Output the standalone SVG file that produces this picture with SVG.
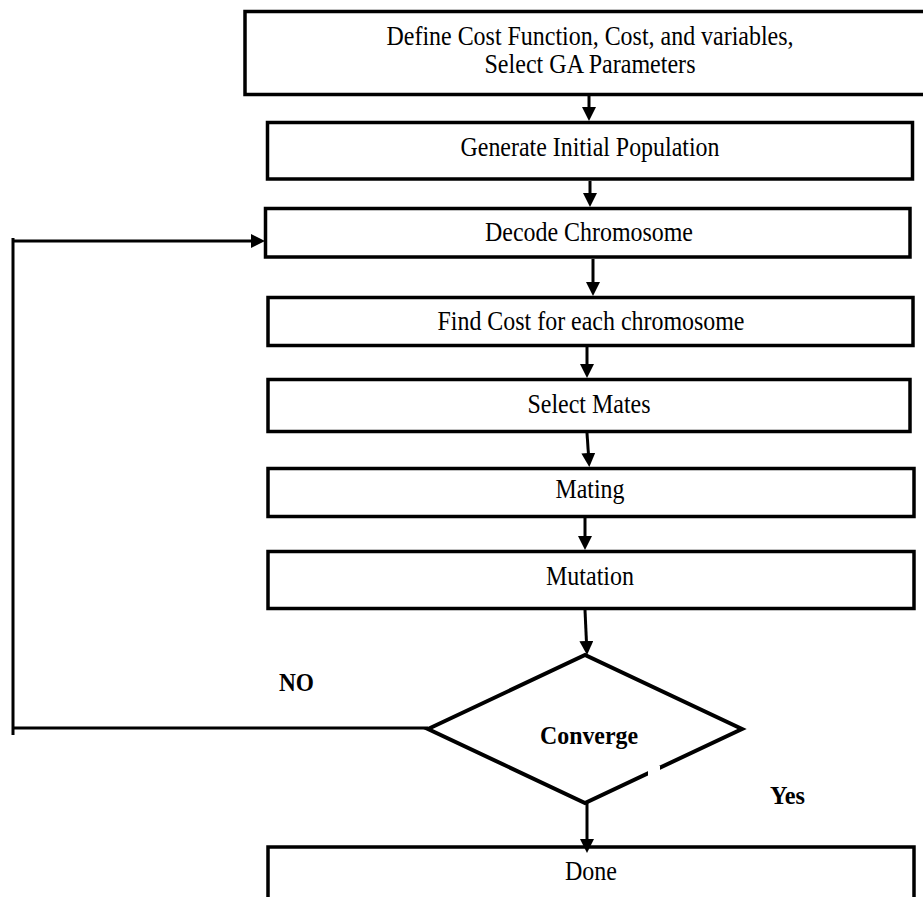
<svg xmlns="http://www.w3.org/2000/svg" width="923" height="897" viewBox="0 0 923 897">
<style>
.box{fill:#fff;stroke:#000;stroke-width:3.5}
.t{font-family:"Liberation Serif","Times New Roman",serif;font-size:26.5px;fill:#000;text-anchor:middle}
.b{font-family:"Liberation Serif","Times New Roman",serif;font-size:25px;font-weight:bold;fill:#000}
.c{fill:none;stroke:#000;stroke-width:3}
</style>
<defs>
<marker id="ah" markerUnits="userSpaceOnUse" markerWidth="15" markerHeight="15" refX="2" refY="7" orient="auto">
<path d="M0,0 L14,7 L0,14 z" fill="#000"/>
</marker>
</defs>
<g id="n-define"><rect class="box" x="245" y="11.5" width="700" height="83"/>
<text class="t" x="590" y="45" textLength="407" lengthAdjust="spacingAndGlyphs">Define Cost Function, Cost, and variables,</text>
<text class="t" x="590" y="73" textLength="211" lengthAdjust="spacingAndGlyphs">Select GA Parameters</text></g>
<g id="n-generate"><rect class="box" x="267.5" y="122.5" width="645" height="56.5"/>
<text class="t" x="590" y="156" textLength="259" lengthAdjust="spacingAndGlyphs">Generate Initial Population</text></g>
<g id="n-decode"><rect class="box" x="265.5" y="208.5" width="644.5" height="48.5"/>
<text class="t" x="589" y="241" textLength="208" lengthAdjust="spacingAndGlyphs">Decode Chromosome</text></g>
<g id="n-find"><rect class="box" x="268" y="297.5" width="645" height="48"/>
<text class="t" x="591" y="330" textLength="307" lengthAdjust="spacingAndGlyphs">Find Cost for each chromosome</text></g>
<g id="n-select"><rect class="box" x="268" y="379.5" width="642" height="52"/>
<text class="t" x="589" y="413" textLength="123" lengthAdjust="spacingAndGlyphs">Select Mates</text></g>
<g id="n-mating"><rect class="box" x="268" y="468.5" width="646" height="48"/>
<text class="t" x="590" y="498" textLength="69" lengthAdjust="spacingAndGlyphs">Mating</text></g>
<g id="n-mutation"><rect class="box" x="268" y="551.5" width="646" height="57"/>
<text class="t" x="590" y="585" textLength="88" lengthAdjust="spacingAndGlyphs">Mutation</text></g>
<g id="n-converge"><polygon points="428,729 585,655 742,729 585,803" fill="#fff" stroke="#000" stroke-width="4" stroke-linejoin="miter"/>
<rect x="648" y="766" width="12" height="10" fill="#fff"/>
<text class="b" x="589" y="744" text-anchor="middle" textLength="98" lengthAdjust="spacingAndGlyphs">Converge</text></g>
<g id="n-done"><rect class="box" x="268" y="847" width="646" height="70"/>
<text class="t" x="591" y="880" textLength="52" lengthAdjust="spacingAndGlyphs">Done</text></g>
<g id="connectors">
<line class="c" x1="589" y1="95" x2="589" y2="109" marker-end="url(#ah)"/>
<line class="c" x1="590" y1="181" x2="590" y2="195" marker-end="url(#ah)"/>
<line class="c" x1="593" y1="259" x2="593" y2="284" marker-end="url(#ah)"/>
<line class="c" x1="587" y1="347" x2="587" y2="366" marker-end="url(#ah)"/>
<line class="c" x1="587" y1="433" x2="588.5" y2="455" marker-end="url(#ah)"/>
<line class="c" x1="585" y1="518" x2="585" y2="538" marker-end="url(#ah)"/>
<line class="c" x1="585" y1="610" x2="586.5" y2="643" marker-end="url(#ah)"/>
<line class="c" x1="587" y1="803" x2="587" y2="841" marker-end="url(#ah)"/>
<polyline class="c" points="428,728 13,728"/>
<line class="c" x1="13" y1="238" x2="13" y2="735"/>
<line class="c" x1="12" y1="241" x2="253" y2="241" marker-end="url(#ah)"/>
<text class="b" x="279" y="691" textLength="35" lengthAdjust="spacingAndGlyphs">NO</text>
<text class="b" x="770" y="804" textLength="35" lengthAdjust="spacingAndGlyphs">Yes</text>
</g>
</svg>
